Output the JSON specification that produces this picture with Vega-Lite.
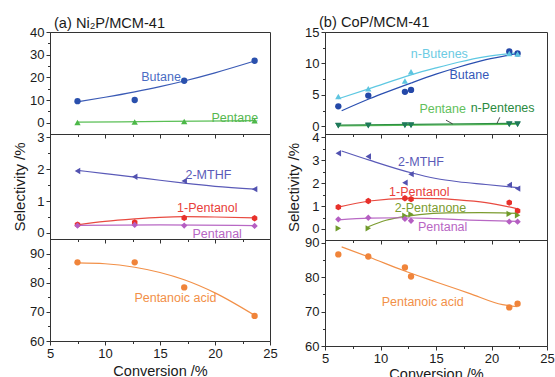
{
  "$schema": "https://vega.github.io/schema/vega-lite/v6.json",
  "background": "white",
  "padding": {"left": 12, "top": 14, "right": 0, "bottom": 0},
  "config": {
    "font": "Liberation Sans",
    "view": {"stroke": "#333", "strokeWidth": 1},
    "axis": {"labelFont": "Liberation Sans", "labelFontSize": 13, "labelColor": "#1a1a1a", "titleFont": "Liberation Sans", "titleFontSize": 15, "titleFontWeight": "normal", "titleColor": "#1a1a1a", "domainColor": "#333", "tickColor": "#333", "grid": false, "labelFlush": false, "labelOverlap": false, "labelPadding": 2},
    "title": {"font": "Liberation Sans", "fontSize": 14.6, "fontWeight": "normal", "color": "#1a1a1a", "anchor": "start", "frame": "group"},
    "text": {"font": "Liberation Sans", "fontSize": 12.5}
  },
  "datasets": {
    "pts": [
      {"p": "a1", "s": "Butane", "x": 7.5, "y": 9.5}, {"p": "a1", "s": "Butane", "x": 12.7, "y": 10.0}, {"p": "a1", "s": "Butane", "x": 17.2, "y": 18.5}, {"p": "a1", "s": "Butane", "x": 23.6, "y": 27.3},
      {"p": "a1", "s": "Pentane", "x": 7.5, "y": 0.1}, {"p": "a1", "s": "Pentane", "x": 12.7, "y": 0.3}, {"p": "a1", "s": "Pentane", "x": 17.2, "y": 0.5}, {"p": "a1", "s": "Pentane", "x": 23.6, "y": 0.8},
      {"p": "a2", "s": "2-MTHF", "x": 7.5, "y": 1.94}, {"p": "a2", "s": "2-MTHF", "x": 12.7, "y": 1.76}, {"p": "a2", "s": "2-MTHF", "x": 17.2, "y": 1.63}, {"p": "a2", "s": "2-MTHF", "x": 23.6, "y": 1.37},
      {"p": "a2", "s": "1-Pentanol", "x": 7.5, "y": 0.26}, {"p": "a2", "s": "1-Pentanol", "x": 12.7, "y": 0.33}, {"p": "a2", "s": "1-Pentanol", "x": 17.2, "y": 0.47}, {"p": "a2", "s": "1-Pentanol", "x": 23.6, "y": 0.46},
      {"p": "a2", "s": "Pentanal", "x": 7.5, "y": 0.23}, {"p": "a2", "s": "Pentanal", "x": 12.7, "y": 0.25}, {"p": "a2", "s": "Pentanal", "x": 17.2, "y": 0.23}, {"p": "a2", "s": "Pentanal", "x": 23.6, "y": 0.22},
      {"p": "a3", "s": "Pentanoic acid", "x": 7.5, "y": 87.0}, {"p": "a3", "s": "Pentanoic acid", "x": 12.7, "y": 87.0}, {"p": "a3", "s": "Pentanoic acid", "x": 17.2, "y": 78.4}, {"p": "a3", "s": "Pentanoic acid", "x": 23.6, "y": 68.6},
      {"p": "b1", "s": "Butane", "x": 6.2, "y": 3.2}, {"p": "b1", "s": "Butane", "x": 8.9, "y": 4.9}, {"p": "b1", "s": "Butane", "x": 12.2, "y": 5.5}, {"p": "b1", "s": "Butane", "x": 12.75, "y": 5.8}, {"p": "b1", "s": "Butane", "x": 21.6, "y": 11.9}, {"p": "b1", "s": "Butane", "x": 22.35, "y": 11.6},
      {"p": "b1", "s": "n-Butenes", "x": 6.2, "y": 4.75}, {"p": "b1", "s": "n-Butenes", "x": 8.9, "y": 6.0}, {"p": "b1", "s": "n-Butenes", "x": 12.2, "y": 7.2}, {"p": "b1", "s": "n-Butenes", "x": 12.75, "y": 8.7}, {"p": "b1", "s": "n-Butenes", "x": 21.6, "y": 11.6}, {"p": "b1", "s": "n-Butenes", "x": 22.35, "y": 11.5},
      {"p": "b1", "s": "Pentane", "x": 6.2, "y": 0.1}, {"p": "b1", "s": "Pentane", "x": 8.9, "y": 0.1}, {"p": "b1", "s": "Pentane", "x": 12.2, "y": 0.15}, {"p": "b1", "s": "Pentane", "x": 12.75, "y": 0.15}, {"p": "b1", "s": "Pentane", "x": 21.6, "y": 0.3}, {"p": "b1", "s": "Pentane", "x": 22.35, "y": 0.3},
      {"p": "b1", "s": "n-Pentenes", "x": 6.2, "y": 0.15}, {"p": "b1", "s": "n-Pentenes", "x": 8.9, "y": 0.2}, {"p": "b1", "s": "n-Pentenes", "x": 12.2, "y": 0.25}, {"p": "b1", "s": "n-Pentenes", "x": 12.75, "y": 0.25}, {"p": "b1", "s": "n-Pentenes", "x": 21.6, "y": 0.4}, {"p": "b1", "s": "n-Pentenes", "x": 22.35, "y": 0.4},
      {"p": "b2", "s": "2-MTHF", "x": 6.2, "y": 3.3}, {"p": "b2", "s": "2-MTHF", "x": 8.9, "y": 3.16}, {"p": "b2", "s": "2-MTHF", "x": 12.2, "y": 2.02}, {"p": "b2", "s": "2-MTHF", "x": 12.75, "y": 2.39}, {"p": "b2", "s": "2-MTHF", "x": 21.6, "y": 1.92}, {"p": "b2", "s": "2-MTHF", "x": 22.35, "y": 1.76},
      {"p": "b2", "s": "1-Pentanol", "x": 6.2, "y": 0.95}, {"p": "b2", "s": "1-Pentanol", "x": 8.9, "y": 1.22}, {"p": "b2", "s": "1-Pentanol", "x": 12.2, "y": 1.34}, {"p": "b2", "s": "1-Pentanol", "x": 12.75, "y": 1.3}, {"p": "b2", "s": "1-Pentanol", "x": 21.6, "y": 1.15}, {"p": "b2", "s": "1-Pentanol", "x": 22.35, "y": 0.79},
      {"p": "b2", "s": "2-Pentanone", "x": 6.2, "y": 0.03}, {"p": "b2", "s": "2-Pentanone", "x": 8.9, "y": 0.03}, {"p": "b2", "s": "2-Pentanone", "x": 12.2, "y": 0.58}, {"p": "b2", "s": "2-Pentanone", "x": 12.75, "y": 0.64}, {"p": "b2", "s": "2-Pentanone", "x": 21.6, "y": 0.66}, {"p": "b2", "s": "2-Pentanone", "x": 22.35, "y": 0.6},
      {"p": "b2", "s": "Pentanal", "x": 6.2, "y": 0.42}, {"p": "b2", "s": "Pentanal", "x": 8.9, "y": 0.49}, {"p": "b2", "s": "Pentanal", "x": 12.2, "y": 0.44}, {"p": "b2", "s": "Pentanal", "x": 12.75, "y": 0.36}, {"p": "b2", "s": "Pentanal", "x": 21.6, "y": 0.32}, {"p": "b2", "s": "Pentanal", "x": 22.35, "y": 0.32},
      {"p": "b3", "s": "Pentanoic acid", "x": 6.2, "y": 86.6}, {"p": "b3", "s": "Pentanoic acid", "x": 8.9, "y": 86.0}, {"p": "b3", "s": "Pentanoic acid", "x": 12.2, "y": 82.8}, {"p": "b3", "s": "Pentanoic acid", "x": 12.75, "y": 80.2}, {"p": "b3", "s": "Pentanoic acid", "x": 21.6, "y": 71.2}, {"p": "b3", "s": "Pentanoic acid", "x": 22.35, "y": 72.3}
    ],
    "fit": [
      {"p": "a1", "s": "Butane", "x": 7.5, "y": 9.2}, {"p": "a1", "s": "Butane", "x": 10, "y": 11.2}, {"p": "a1", "s": "Butane", "x": 12.7, "y": 13.6}, {"p": "a1", "s": "Butane", "x": 15, "y": 15.9}, {"p": "a1", "s": "Butane", "x": 17.2, "y": 18.4}, {"p": "a1", "s": "Butane", "x": 20, "y": 22.0}, {"p": "a1", "s": "Butane", "x": 23.6, "y": 27.2},
      {"p": "a1", "s": "Pentane", "x": 7.5, "y": 0.2}, {"p": "a1", "s": "Pentane", "x": 15.5, "y": 0.55}, {"p": "a1", "s": "Pentane", "x": 23.6, "y": 0.9},
      {"p": "a2", "s": "2-MTHF", "x": 7.5, "y": 1.96}, {"p": "a2", "s": "2-MTHF", "x": 10, "y": 1.86}, {"p": "a2", "s": "2-MTHF", "x": 12.7, "y": 1.75}, {"p": "a2", "s": "2-MTHF", "x": 15, "y": 1.65}, {"p": "a2", "s": "2-MTHF", "x": 17.2, "y": 1.56}, {"p": "a2", "s": "2-MTHF", "x": 20, "y": 1.46}, {"p": "a2", "s": "2-MTHF", "x": 23.6, "y": 1.37},
      {"p": "a2", "s": "1-Pentanol", "x": 7.5, "y": 0.25}, {"p": "a2", "s": "1-Pentanol", "x": 10, "y": 0.36}, {"p": "a2", "s": "1-Pentanol", "x": 12.7, "y": 0.44}, {"p": "a2", "s": "1-Pentanol", "x": 15, "y": 0.49}, {"p": "a2", "s": "1-Pentanol", "x": 17.2, "y": 0.51}, {"p": "a2", "s": "1-Pentanol", "x": 20, "y": 0.5}, {"p": "a2", "s": "1-Pentanol", "x": 23.6, "y": 0.47},
      {"p": "a2", "s": "Pentanal", "x": 7.5, "y": 0.24}, {"p": "a2", "s": "Pentanal", "x": 15, "y": 0.25}, {"p": "a2", "s": "Pentanal", "x": 23.6, "y": 0.23},
      {"p": "a3", "s": "Pentanoic acid", "x": 7.5, "y": 86.8}, {"p": "a3", "s": "Pentanoic acid", "x": 10, "y": 86.5}, {"p": "a3", "s": "Pentanoic acid", "x": 12.7, "y": 85.3}, {"p": "a3", "s": "Pentanoic acid", "x": 15, "y": 83.5}, {"p": "a3", "s": "Pentanoic acid", "x": 17.2, "y": 81.0}, {"p": "a3", "s": "Pentanoic acid", "x": 20, "y": 76.5}, {"p": "a3", "s": "Pentanoic acid", "x": 23.6, "y": 68.8},
      {"p": "b1", "s": "Butane", "x": 6.5, "y": 2.5}, {"p": "b1", "s": "Butane", "x": 9, "y": 4.4}, {"p": "b1", "s": "Butane", "x": 12.75, "y": 6.9}, {"p": "b1", "s": "Butane", "x": 15, "y": 8.3}, {"p": "b1", "s": "Butane", "x": 17, "y": 9.4}, {"p": "b1", "s": "Butane", "x": 19.5, "y": 10.6}, {"p": "b1", "s": "Butane", "x": 22.35, "y": 11.6},
      {"p": "b1", "s": "n-Butenes", "x": 6.2, "y": 4.4}, {"p": "b1", "s": "n-Butenes", "x": 9, "y": 6.0}, {"p": "b1", "s": "n-Butenes", "x": 12.75, "y": 8.2}, {"p": "b1", "s": "n-Butenes", "x": 15, "y": 9.3}, {"p": "b1", "s": "n-Butenes", "x": 17, "y": 10.2}, {"p": "b1", "s": "n-Butenes", "x": 19.5, "y": 11.1}, {"p": "b1", "s": "n-Butenes", "x": 22.35, "y": 11.7},
      {"p": "b1", "s": "Pentane", "x": 6.2, "y": 0.1}, {"p": "b1", "s": "Pentane", "x": 22.35, "y": 0.35},
      {"p": "b1", "s": "n-Pentenes", "x": 6.2, "y": 0.2}, {"p": "b1", "s": "n-Pentenes", "x": 22.35, "y": 0.5},
      {"p": "b2", "s": "2-MTHF", "x": 6.5, "y": 3.4}, {"p": "b2", "s": "2-MTHF", "x": 9, "y": 3.0}, {"p": "b2", "s": "2-MTHF", "x": 12.75, "y": 2.45}, {"p": "b2", "s": "2-MTHF", "x": 15, "y": 2.2}, {"p": "b2", "s": "2-MTHF", "x": 17, "y": 2.06}, {"p": "b2", "s": "2-MTHF", "x": 19.5, "y": 1.94}, {"p": "b2", "s": "2-MTHF", "x": 22.35, "y": 1.8},
      {"p": "b2", "s": "1-Pentanol", "x": 6.2, "y": 0.95}, {"p": "b2", "s": "1-Pentanol", "x": 9, "y": 1.22}, {"p": "b2", "s": "1-Pentanol", "x": 12.5, "y": 1.33}, {"p": "b2", "s": "1-Pentanol", "x": 15, "y": 1.32}, {"p": "b2", "s": "1-Pentanol", "x": 17, "y": 1.27}, {"p": "b2", "s": "1-Pentanol", "x": 19.5, "y": 1.15}, {"p": "b2", "s": "1-Pentanol", "x": 22.35, "y": 0.88},
      {"p": "b2", "s": "2-Pentanone", "x": 8.9, "y": 0.1}, {"p": "b2", "s": "2-Pentanone", "x": 10.5, "y": 0.38}, {"p": "b2", "s": "2-Pentanone", "x": 12.2, "y": 0.55}, {"p": "b2", "s": "2-Pentanone", "x": 13.5, "y": 0.63}, {"p": "b2", "s": "2-Pentanone", "x": 16, "y": 0.7}, {"p": "b2", "s": "2-Pentanone", "x": 19, "y": 0.71}, {"p": "b2", "s": "2-Pentanone", "x": 22.35, "y": 0.68},
      {"p": "b2", "s": "Pentanal", "x": 6.2, "y": 0.4}, {"p": "b2", "s": "Pentanal", "x": 9, "y": 0.47}, {"p": "b2", "s": "Pentanal", "x": 12, "y": 0.49}, {"p": "b2", "s": "Pentanal", "x": 15, "y": 0.45}, {"p": "b2", "s": "Pentanal", "x": 18, "y": 0.39}, {"p": "b2", "s": "Pentanal", "x": 22.35, "y": 0.33},
      {"p": "b3", "s": "Pentanoic acid", "x": 6.5, "y": 88.8}, {"p": "b3", "s": "Pentanoic acid", "x": 9, "y": 85.8}, {"p": "b3", "s": "Pentanoic acid", "x": 12, "y": 82.0}, {"p": "b3", "s": "Pentanoic acid", "x": 15, "y": 78.6}, {"p": "b3", "s": "Pentanoic acid", "x": 18, "y": 75.3}, {"p": "b3", "s": "Pentanoic acid", "x": 21, "y": 72.0}, {"p": "b3", "s": "Pentanoic acid", "x": 22.35, "y": 71.4}
    ],
    "lbl": [
      {"p": "a1", "s": "Butane", "x": 15.1, "y": 20.2, "t": "Butane"},
      {"p": "a1", "s": "Pentane", "x": 21.8, "y": 2.2, "t": "Pentane"},
      {"p": "a2", "s": "2-MTHF", "x": 19.4, "y": 1.83, "t": "2-MTHF"},
      {"p": "a2", "s": "1-Pentanol", "x": 19.3, "y": 0.78, "t": "1-Pentanol"},
      {"p": "a2", "s": "Pentanal", "x": 20.2, "y": -0.02, "t": "Pentanal"},
      {"p": "a3", "s": "Pentanoic acid", "x": 16.4, "y": 74.7, "t": "Pentanoic acid"},
      {"p": "b1", "s": "n-Butenes", "x": 15.3, "y": 11.5, "t": "n-Butenes"},
      {"p": "b1", "s": "Butane", "x": 18.0, "y": 8.1, "t": "Butane"},
      {"p": "b1", "s": "Pentane", "x": 15.6, "y": 2.75, "t": "Pentane"},
      {"p": "b1", "s": "n-Pentenes", "x": 21.0, "y": 2.9, "t": "n-Pentenes"},
      {"p": "b2", "s": "2-MTHF", "x": 13.65, "y": 2.9, "t": "2-MTHF"},
      {"p": "b2", "s": "1-Pentanol", "x": 13.5, "y": 1.63, "t": "1-Pentanol"},
      {"p": "b2", "s": "2-Pentanone", "x": 14.5, "y": 0.9, "t": "2-Pentanone"},
      {"p": "b2", "s": "Pentanal", "x": 15.6, "y": 0.07, "t": "Pentanal"},
      {"p": "b3", "s": "Pentanoic acid", "x": 13.8, "y": 72.7, "t": "Pentanoic acid"}
    ],
    "arr": [
      {"p": "b1", "x": 15.9, "y": 1.0, "x2": 16.5, "y2": 0.4},
      {"p": "b1", "x": 20.75, "y": 1.45, "x2": 20.5, "y2": 0.5}
    ]
  },
  "resolve": {"scale": {"x": "independent", "y": "independent", "color": "independent", "shape": "independent"}, "axis": {"x": "independent", "y": "independent"}},
  "spacing": 7,
  "hconcat": [
    {
      "spacing": 0,
      "bounds": "flush",
      "resolve": {"scale": {"x": "independent", "y": "independent", "color": "independent", "shape": "independent"}, "axis": {"x": "independent", "y": "independent"}},
      "vconcat": [
        {
          "width": 220, "height": 102,
          "title": {"text": "(a) Ni₂P/MCM-41", "dx": 4, "offset": -5},
          "resolve": {"scale": {"color": "independent", "shape": "independent"}, "axis": {"x": "independent", "y": "independent"}},
          "layer": [
            {"data": {"name": "fit"}, "transform": [{"filter": "datum.p=='a1'"}], "mark": {"type": "line", "interpolate": "monotone", "strokeWidth": 1.2},
             "encoding": {
               "x": {"field": "x", "type": "quantitative", "scale": {"domain": [5, 25], "nice": false, "zero": false}, "axis": {"orient": "bottom", "values": [7.5, 12.5, 17.5, 22.5], "tickSize": 2.5, "labels": false, "domain": false, "title": null}},
               "y": {"field": "y", "type": "quantitative", "scale": {"domain": [-5, 40], "nice": false, "zero": false}, "axis": {"orient": "left", "values": [5, 15, 25, 35], "tickSize": 2.5, "labels": false, "domain": false, "title": null}},
               "color": {"field": "s", "type": "nominal", "legend": null, "scale": {"domain": ["Butane", "Pentane", "2-MTHF", "1-Pentanol", "Pentanal", "Pentanoic acid"], "range": ["#3a5ab5", "#5abf55", "#5a5ab8", "#e84a40", "#b868c4", "#f29048"]}}}},
            {"data": {"name": "pts"}, "transform": [{"filter": "datum.p=='a1'"}], "mark": {"type": "point", "filled": true, "opacity": 1, "size": 40},
             "encoding": {
               "x": {"field": "x", "type": "quantitative", "scale": {"domain": [5, 25], "nice": false, "zero": false}, "axis": {"orient": "bottom", "values": [5, 10, 15, 20, 25], "tickSize": 4, "labels": false, "title": null}},
               "y": {"field": "y", "type": "quantitative", "scale": {"domain": [-5, 40], "nice": false, "zero": false}, "axis": {"orient": "left", "values": [0, 10, 20, 30, 40], "tickSize": 4, "title": null}},
               "color": {"field": "s", "type": "nominal", "legend": null, "scale": {"domain": ["Butane", "Pentane", "2-MTHF", "1-Pentanol", "Pentanal", "Pentanoic acid"], "range": ["#2a50ad", "#4cb848", "#5252b0", "#e8302a", "#b55ec2", "#f0843a"]}},
               "shape": {"field": "s", "type": "nominal", "legend": null, "scale": {"domain": ["Butane", "Pentane", "2-MTHF", "1-Pentanol", "Pentanal", "Pentanoic acid"], "range": ["circle", "triangle-up", "triangle-left", "M0,-1L0.866,-0.5L0.866,0.5L0,1L-0.866,0.5L-0.866,-0.5Z", "diamond", "circle"]}}}},
            {"data": {"name": "lbl"}, "transform": [{"filter": "datum.p=='a1'"}], "mark": {"type": "text", "align": "center", "baseline": "middle", "fontSize": 12.5},
             "encoding": {
               "x": {"field": "x", "type": "quantitative", "scale": {"domain": [5, 25], "nice": false, "zero": false}, "axis": null},
               "y": {"field": "y", "type": "quantitative", "scale": {"domain": [-5, 40], "nice": false, "zero": false}, "axis": null},
               "text": {"field": "t"},
               "color": {"field": "s", "type": "nominal", "legend": null, "scale": {"domain": ["Butane", "Pentane", "2-MTHF", "1-Pentanol", "Pentanal", "Pentanoic acid"], "range": ["#4a6cc4", "#55b850", "#5a5ab8", "#e8403a", "#b866c4", "#f29048"]}}}}
          ]
        },
        {
          "width": 220, "height": 105,
          "resolve": {"scale": {"color": "independent", "shape": "independent"}, "axis": {"x": "independent", "y": "independent"}},
          "layer": [
            {"data": {"name": "fit"}, "transform": [{"filter": "datum.p=='a2'"}], "mark": {"type": "line", "interpolate": "monotone", "strokeWidth": 1.2},
             "encoding": {
               "x": {"field": "x", "type": "quantitative", "scale": {"domain": [5, 25], "nice": false, "zero": false}, "axis": {"orient": "bottom", "values": [7.5, 12.5, 17.5, 22.5], "tickSize": 2.5, "labels": false, "domain": false, "title": null}},
               "y": {"field": "y", "type": "quantitative", "scale": {"domain": [-0.19, 3.1], "nice": false, "zero": false}, "axis": {"orient": "left", "values": [0.5, 1.5, 2.5], "tickSize": 2.5, "labels": false, "domain": false, "title": null}},
               "color": {"field": "s", "type": "nominal", "legend": null, "scale": {"domain": ["Butane", "Pentane", "2-MTHF", "1-Pentanol", "Pentanal", "Pentanoic acid"], "range": ["#3a5ab5", "#5abf55", "#5a5ab8", "#e84a40", "#b868c4", "#f29048"]}}}},
            {"data": {"name": "pts"}, "transform": [{"filter": "datum.p=='a2'"}], "mark": {"type": "point", "filled": true, "opacity": 1, "size": 40},
             "encoding": {
               "x": {"field": "x", "type": "quantitative", "scale": {"domain": [5, 25], "nice": false, "zero": false}, "axis": {"orient": "bottom", "values": [5, 10, 15, 20, 25], "tickSize": 4, "labels": false, "title": null}},
               "y": {"field": "y", "type": "quantitative", "scale": {"domain": [-0.19, 3.1], "nice": false, "zero": false}, "axis": {"orient": "left", "values": [0, 1, 2, 3], "tickSize": 4, "title": "Selectivity /%", "titlePadding": 8.9}},
               "color": {"field": "s", "type": "nominal", "legend": null, "scale": {"domain": ["Butane", "Pentane", "2-MTHF", "1-Pentanol", "Pentanal", "Pentanoic acid"], "range": ["#2a50ad", "#4cb848", "#5252b0", "#e8302a", "#b55ec2", "#f0843a"]}},
               "shape": {"field": "s", "type": "nominal", "legend": null, "scale": {"domain": ["Butane", "Pentane", "2-MTHF", "1-Pentanol", "Pentanal", "Pentanoic acid"], "range": ["circle", "triangle-up", "triangle-left", "M0,-1L0.866,-0.5L0.866,0.5L0,1L-0.866,0.5L-0.866,-0.5Z", "diamond", "circle"]}}}},
            {"data": {"name": "lbl"}, "transform": [{"filter": "datum.p=='a2'"}], "mark": {"type": "text", "align": "center", "baseline": "middle", "fontSize": 12.5},
             "encoding": {
               "x": {"field": "x", "type": "quantitative", "scale": {"domain": [5, 25], "nice": false, "zero": false}, "axis": null},
               "y": {"field": "y", "type": "quantitative", "scale": {"domain": [-0.19, 3.1], "nice": false, "zero": false}, "axis": null},
               "text": {"field": "t"},
               "color": {"field": "s", "type": "nominal", "legend": null, "scale": {"domain": ["Butane", "Pentane", "2-MTHF", "1-Pentanol", "Pentanal", "Pentanoic acid"], "range": ["#4a6cc4", "#55b850", "#5a5ab8", "#e8403a", "#b866c4", "#f29048"]}}}}
          ]
        },
        {
          "width": 220, "height": 102,
          "resolve": {"scale": {"color": "independent", "shape": "independent"}, "axis": {"x": "independent", "y": "independent"}},
          "layer": [
            {"data": {"name": "fit"}, "transform": [{"filter": "datum.p=='a3'"}], "mark": {"type": "line", "interpolate": "monotone", "strokeWidth": 1.2},
             "encoding": {
               "x": {"field": "x", "type": "quantitative", "scale": {"domain": [5, 25], "nice": false, "zero": false}, "axis": {"orient": "bottom", "values": [7.5, 12.5, 17.5, 22.5], "tickSize": 2.5, "labels": false, "domain": false, "title": null}},
               "y": {"field": "y", "type": "quantitative", "scale": {"domain": [60, 95], "nice": false, "zero": false}, "axis": {"orient": "left", "values": [65, 75, 85], "tickSize": 2.5, "labels": false, "domain": false, "title": null}},
               "color": {"field": "s", "type": "nominal", "legend": null, "scale": {"domain": ["Butane", "Pentane", "2-MTHF", "1-Pentanol", "Pentanal", "Pentanoic acid"], "range": ["#3a5ab5", "#5abf55", "#5a5ab8", "#e84a40", "#b868c4", "#f29048"]}}}},
            {"data": {"name": "pts"}, "transform": [{"filter": "datum.p=='a3'"}], "mark": {"type": "point", "filled": true, "opacity": 1, "size": 40},
             "encoding": {
               "x": {"field": "x", "type": "quantitative", "scale": {"domain": [5, 25], "nice": false, "zero": false}, "axis": {"orient": "bottom", "values": [5, 10, 15, 20, 25], "tickSize": 4, "title": "Conversion /%", "titleFontSize": 14.5}},
               "y": {"field": "y", "type": "quantitative", "scale": {"domain": [60, 95], "nice": false, "zero": false}, "axis": {"orient": "left", "values": [60, 70, 80, 90], "tickSize": 4, "title": null}},
               "color": {"field": "s", "type": "nominal", "legend": null, "scale": {"domain": ["Butane", "Pentane", "2-MTHF", "1-Pentanol", "Pentanal", "Pentanoic acid"], "range": ["#2a50ad", "#4cb848", "#5252b0", "#e8302a", "#b55ec2", "#f0843a"]}},
               "shape": {"field": "s", "type": "nominal", "legend": null, "scale": {"domain": ["Butane", "Pentane", "2-MTHF", "1-Pentanol", "Pentanal", "Pentanoic acid"], "range": ["circle", "triangle-up", "triangle-left", "M0,-1L0.866,-0.5L0.866,0.5L0,1L-0.866,0.5L-0.866,-0.5Z", "diamond", "circle"]}}}},
            {"data": {"name": "lbl"}, "transform": [{"filter": "datum.p=='a3'"}], "mark": {"type": "text", "align": "center", "baseline": "middle", "fontSize": 12.5},
             "encoding": {
               "x": {"field": "x", "type": "quantitative", "scale": {"domain": [5, 25], "nice": false, "zero": false}, "axis": null},
               "y": {"field": "y", "type": "quantitative", "scale": {"domain": [60, 95], "nice": false, "zero": false}, "axis": null},
               "text": {"field": "t"},
               "color": {"field": "s", "type": "nominal", "legend": null, "scale": {"domain": ["Butane", "Pentane", "2-MTHF", "1-Pentanol", "Pentanal", "Pentanoic acid"], "range": ["#4a6cc4", "#55b850", "#5a5ab8", "#e8403a", "#b866c4", "#f29048"]}}}}
          ]
        }
      ]
    },
    {
      "spacing": 0,
      "bounds": "flush",
      "resolve": {"scale": {"x": "independent", "y": "independent", "color": "independent", "shape": "independent"}, "axis": {"x": "independent", "y": "independent"}},
      "vconcat": [
        {
          "width": 222, "height": 102,
          "title": {"text": "(b) CoP/MCM-41", "dx": -6, "offset": -4},
          "resolve": {"scale": {"color": "independent", "shape": "independent"}, "axis": {"x": "independent", "y": "independent"}},
          "layer": [
            {"data": {"name": "fit"}, "transform": [{"filter": "datum.p=='b1'"}], "mark": {"type": "line", "interpolate": "monotone", "strokeWidth": 1.2},
             "encoding": {
               "x": {"field": "x", "type": "quantitative", "scale": {"domain": [5, 25], "nice": false, "zero": false}, "axis": {"orient": "bottom", "values": [7.5, 12.5, 17.5, 22.5], "tickSize": 2.5, "labels": false, "domain": false, "title": null}},
               "y": {"field": "y", "type": "quantitative", "scale": {"domain": [-1.2, 15], "nice": false, "zero": false}, "axis": {"orient": "left", "values": [2.5, 7.5, 12.5], "tickSize": 2.5, "labels": false, "domain": false, "title": null}},
               "color": {"field": "s", "type": "nominal", "legend": null, "scale": {"domain": ["Butane", "n-Butenes", "Pentane", "n-Pentenes", "2-MTHF", "1-Pentanol", "2-Pentanone", "Pentanal", "Pentanoic acid"], "range": ["#2a4fb0", "#5ec8e2", "#5dbf5a", "#2e8f45", "#5a5ab8", "#e84a40", "#7c9c30", "#b868c4", "#f29048"]}}}},
            {"data": {"name": "pts"}, "transform": [{"filter": "datum.p=='b1'"}], "mark": {"type": "point", "filled": true, "opacity": 1, "size": 40},
             "encoding": {
               "x": {"field": "x", "type": "quantitative", "scale": {"domain": [5, 25], "nice": false, "zero": false}, "axis": {"orient": "bottom", "values": [5, 10, 15, 20, 25], "tickSize": 4, "labels": false, "title": null}},
               "y": {"field": "y", "type": "quantitative", "scale": {"domain": [-1.2, 15], "nice": false, "zero": false}, "axis": {"orient": "left", "values": [0, 5, 10, 15], "tickSize": 4, "title": null}},
               "color": {"field": "s", "type": "nominal", "legend": null, "scale": {"domain": ["Butane", "n-Butenes", "Pentane", "n-Pentenes", "2-MTHF", "1-Pentanol", "2-Pentanone", "Pentanal", "Pentanoic acid"], "range": ["#2448a8", "#5ec5e0", "#1f7a5a", "#1f7a5a", "#5252b0", "#e8302a", "#6f9a2a", "#b55ec2", "#f0843a"]}},
               "shape": {"field": "s", "type": "nominal", "legend": null, "scale": {"domain": ["Butane", "n-Butenes", "Pentane", "n-Pentenes", "2-MTHF", "1-Pentanol", "2-Pentanone", "Pentanal", "Pentanoic acid"], "range": ["circle", "triangle-up", "triangle-down", "triangle-down", "triangle-left", "M0,-1L0.866,-0.5L0.866,0.5L0,1L-0.866,0.5L-0.866,-0.5Z", "triangle-right", "diamond", "circle"]}}}},
            {"data": {"name": "lbl"}, "transform": [{"filter": "datum.p=='b1'"}], "mark": {"type": "text", "align": "center", "baseline": "middle", "fontSize": 12.5},
             "encoding": {
               "x": {"field": "x", "type": "quantitative", "scale": {"domain": [5, 25], "nice": false, "zero": false}, "axis": null},
               "y": {"field": "y", "type": "quantitative", "scale": {"domain": [-1.2, 15], "nice": false, "zero": false}, "axis": null},
               "text": {"field": "t"},
               "color": {"field": "s", "type": "nominal", "legend": null, "scale": {"domain": ["Butane", "n-Butenes", "Pentane", "n-Pentenes", "2-MTHF", "1-Pentanol", "2-Pentanone", "Pentanal", "Pentanoic acid"], "range": ["#3558b8", "#6ccbe3", "#62bf5c", "#2a8a40", "#5a5ab8", "#e8403a", "#7c9c30", "#b866c4", "#f29048"]}}}},
            {"data": {"name": "arr"}, "transform": [{"filter": "datum.p=='b1'"}], "mark": {"type": "rule", "color": "#222", "strokeWidth": 0.8},
             "encoding": {
               "x": {"field": "x", "type": "quantitative", "scale": {"domain": [5, 25], "nice": false, "zero": false}, "axis": null},
               "y": {"field": "y", "type": "quantitative", "scale": {"domain": [-1.2, 15], "nice": false, "zero": false}, "axis": null},
               "x2": {"field": "x2"},
               "y2": {"field": "y2"}}}
          ]
        },
        {
          "width": 222, "height": 106,
          "resolve": {"scale": {"color": "independent", "shape": "independent"}, "axis": {"x": "independent", "y": "independent"}},
          "layer": [
            {"data": {"name": "fit"}, "transform": [{"filter": "datum.p=='b2'"}], "mark": {"type": "line", "interpolate": "monotone", "strokeWidth": 1.2},
             "encoding": {
               "x": {"field": "x", "type": "quantitative", "scale": {"domain": [5, 25], "nice": false, "zero": false}, "axis": {"orient": "bottom", "values": [7.5, 12.5, 17.5, 22.5], "tickSize": 2.5, "labels": false, "domain": false, "title": null}},
               "y": {"field": "y", "type": "quantitative", "scale": {"domain": [-0.48, 4.14], "nice": false, "zero": false}, "axis": {"orient": "left", "values": [0.5, 1.5, 2.5, 3.5], "tickSize": 2.5, "labels": false, "domain": false, "title": null}},
               "color": {"field": "s", "type": "nominal", "legend": null, "scale": {"domain": ["Butane", "n-Butenes", "Pentane", "n-Pentenes", "2-MTHF", "1-Pentanol", "2-Pentanone", "Pentanal", "Pentanoic acid"], "range": ["#2a4fb0", "#5ec8e2", "#5dbf5a", "#2e8f45", "#5a5ab8", "#e84a40", "#7c9c30", "#b868c4", "#f29048"]}}}},
            {"data": {"name": "pts"}, "transform": [{"filter": "datum.p=='b2'"}], "mark": {"type": "point", "filled": true, "opacity": 1, "size": 40},
             "encoding": {
               "x": {"field": "x", "type": "quantitative", "scale": {"domain": [5, 25], "nice": false, "zero": false}, "axis": {"orient": "bottom", "values": [5, 10, 15, 20, 25], "tickSize": 4, "labels": false, "title": null}},
               "y": {"field": "y", "type": "quantitative", "scale": {"domain": [-0.48, 4.14], "nice": false, "zero": false}, "axis": {"orient": "left", "values": [0, 1, 2, 3, 4], "tickSize": 4, "title": "Selectivity /%", "titlePadding": 10.3}},
               "color": {"field": "s", "type": "nominal", "legend": null, "scale": {"domain": ["Butane", "n-Butenes", "Pentane", "n-Pentenes", "2-MTHF", "1-Pentanol", "2-Pentanone", "Pentanal", "Pentanoic acid"], "range": ["#2448a8", "#5ec5e0", "#1f7a5a", "#1f7a5a", "#5252b0", "#e8302a", "#6f9a2a", "#b55ec2", "#f0843a"]}},
               "shape": {"field": "s", "type": "nominal", "legend": null, "scale": {"domain": ["Butane", "n-Butenes", "Pentane", "n-Pentenes", "2-MTHF", "1-Pentanol", "2-Pentanone", "Pentanal", "Pentanoic acid"], "range": ["circle", "triangle-up", "triangle-down", "triangle-down", "triangle-left", "M0,-1L0.866,-0.5L0.866,0.5L0,1L-0.866,0.5L-0.866,-0.5Z", "triangle-right", "diamond", "circle"]}}}},
            {"data": {"name": "lbl"}, "transform": [{"filter": "datum.p=='b2'"}], "mark": {"type": "text", "align": "center", "baseline": "middle", "fontSize": 12.5},
             "encoding": {
               "x": {"field": "x", "type": "quantitative", "scale": {"domain": [5, 25], "nice": false, "zero": false}, "axis": null},
               "y": {"field": "y", "type": "quantitative", "scale": {"domain": [-0.48, 4.14], "nice": false, "zero": false}, "axis": null},
               "text": {"field": "t"},
               "color": {"field": "s", "type": "nominal", "legend": null, "scale": {"domain": ["Butane", "n-Butenes", "Pentane", "n-Pentenes", "2-MTHF", "1-Pentanol", "2-Pentanone", "Pentanal", "Pentanoic acid"], "range": ["#3558b8", "#6ccbe3", "#62bf5c", "#2a8a40", "#5a5ab8", "#e8403a", "#7c9c30", "#b866c4", "#f29048"]}}}}
          ]
        },
        {
          "width": 222, "height": 106,
          "resolve": {"scale": {"color": "independent", "shape": "independent"}, "axis": {"x": "independent", "y": "independent"}},
          "layer": [
            {"data": {"name": "fit"}, "transform": [{"filter": "datum.p=='b3'"}], "mark": {"type": "line", "interpolate": "monotone", "strokeWidth": 1.2},
             "encoding": {
               "x": {"field": "x", "type": "quantitative", "scale": {"domain": [5, 25], "nice": false, "zero": false}, "axis": {"orient": "bottom", "values": [7.5, 12.5, 17.5, 22.5], "tickSize": 2.5, "labels": false, "domain": false, "title": null}},
               "y": {"field": "y", "type": "quantitative", "scale": {"domain": [60, 90.8], "nice": false, "zero": false}, "axis": {"orient": "left", "values": [65, 75, 85], "tickSize": 2.5, "labels": false, "domain": false, "title": null}},
               "color": {"field": "s", "type": "nominal", "legend": null, "scale": {"domain": ["Butane", "n-Butenes", "Pentane", "n-Pentenes", "2-MTHF", "1-Pentanol", "2-Pentanone", "Pentanal", "Pentanoic acid"], "range": ["#2a4fb0", "#5ec8e2", "#5dbf5a", "#2e8f45", "#5a5ab8", "#e84a40", "#7c9c30", "#b868c4", "#f29048"]}}}},
            {"data": {"name": "pts"}, "transform": [{"filter": "datum.p=='b3'"}], "mark": {"type": "point", "filled": true, "opacity": 1, "size": 40},
             "encoding": {
               "x": {"field": "x", "type": "quantitative", "scale": {"domain": [5, 25], "nice": false, "zero": false}, "axis": {"orient": "bottom", "values": [5, 10, 15, 20, 25], "tickSize": 4, "title": "Conversion /%", "titleFontSize": 14.5, "titlePadding": 2}},
               "y": {"field": "y", "type": "quantitative", "scale": {"domain": [60, 90.8], "nice": false, "zero": false}, "axis": {"orient": "left", "values": [60, 70, 80, 90], "tickSize": 4, "title": null}},
               "color": {"field": "s", "type": "nominal", "legend": null, "scale": {"domain": ["Butane", "n-Butenes", "Pentane", "n-Pentenes", "2-MTHF", "1-Pentanol", "2-Pentanone", "Pentanal", "Pentanoic acid"], "range": ["#2448a8", "#5ec5e0", "#1f7a5a", "#1f7a5a", "#5252b0", "#e8302a", "#6f9a2a", "#b55ec2", "#f0843a"]}},
               "shape": {"field": "s", "type": "nominal", "legend": null, "scale": {"domain": ["Butane", "n-Butenes", "Pentane", "n-Pentenes", "2-MTHF", "1-Pentanol", "2-Pentanone", "Pentanal", "Pentanoic acid"], "range": ["circle", "triangle-up", "triangle-down", "triangle-down", "triangle-left", "M0,-1L0.866,-0.5L0.866,0.5L0,1L-0.866,0.5L-0.866,-0.5Z", "triangle-right", "diamond", "circle"]}}}},
            {"data": {"name": "lbl"}, "transform": [{"filter": "datum.p=='b3'"}], "mark": {"type": "text", "align": "center", "baseline": "middle", "fontSize": 12.5},
             "encoding": {
               "x": {"field": "x", "type": "quantitative", "scale": {"domain": [5, 25], "nice": false, "zero": false}, "axis": null},
               "y": {"field": "y", "type": "quantitative", "scale": {"domain": [60, 90.8], "nice": false, "zero": false}, "axis": null},
               "text": {"field": "t"},
               "color": {"field": "s", "type": "nominal", "legend": null, "scale": {"domain": ["Butane", "n-Butenes", "Pentane", "n-Pentenes", "2-MTHF", "1-Pentanol", "2-Pentanone", "Pentanal", "Pentanoic acid"], "range": ["#3558b8", "#6ccbe3", "#62bf5c", "#2a8a40", "#5a5ab8", "#e8403a", "#7c9c30", "#b866c4", "#f29048"]}}}}
          ]
        }
      ]
    }
  ]
}
